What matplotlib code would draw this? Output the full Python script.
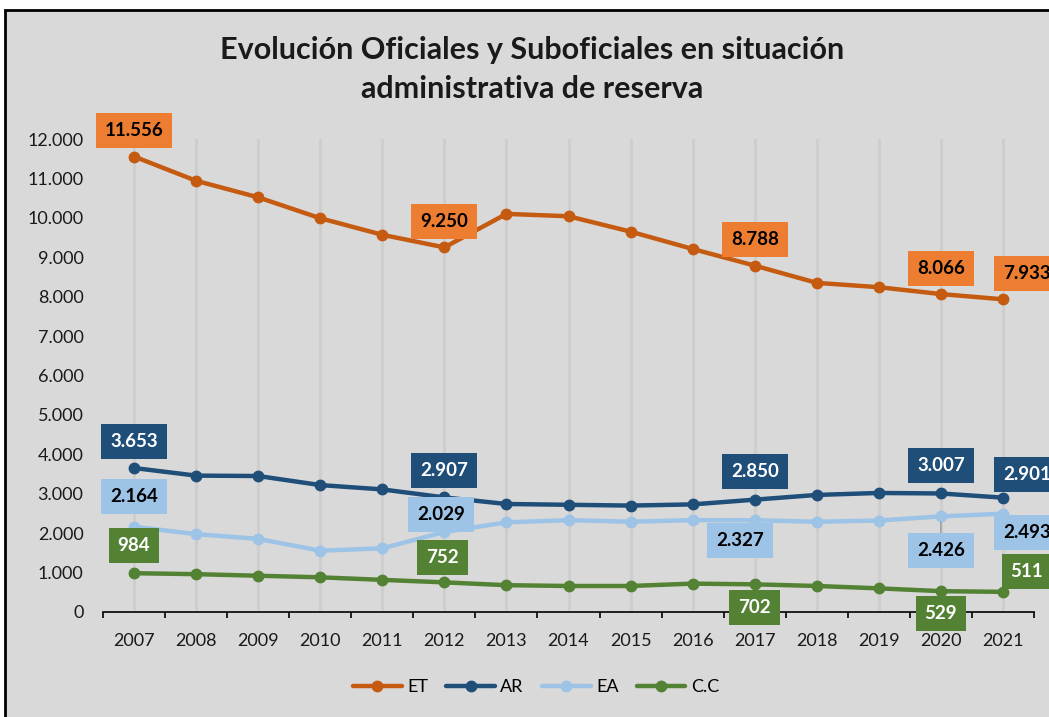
import matplotlib.pyplot as plt
from matplotlib.patches import Rectangle
from matplotlib.ticker import FuncFormatter

plt.rcParams['font.family'] = ['Lato', 'DejaVu Sans']

# Data
years = ['2007', '2008', '2009', '2010', '2011', '2012', '2013', '2014',
         '2015', '2016', '2017', '2018', '2019', '2020', '2021']
et = [11556, 10940, 10520, 9990, 9570, 9250, 10100, 10040,
      9650, 9210, 8788, 8350, 8240, 8066, 7933]
ar = [3653, 3460, 3450, 3220, 3110, 2907, 2740, 2720,
      2700, 2730, 2850, 2970, 3020, 3007, 2901]
ea = [2164, 1975, 1855, 1555, 1615, 2029, 2275, 2330,
      2290, 2330, 2327, 2290, 2320, 2426, 2493]
cc = [984, 960, 920, 880, 815, 752, 680, 660,
      660, 720, 702, 660, 600, 529, 511]

# labelled years (index) -> offset of label box in pixels (dx, dy)
et_labels = {0: (0, 26), 5: (0, 26), 10: (0, 26), 13: (0, 26), 14: (24, 26)}
ar_labels = {0: (0, 27), 5: (0, 27), 10: (0, 28), 13: (0, 28), 14: (24, 23)}
ea_labels = {0: (0, 30), 5: (-3, 18), 10: (-15, -20), 13: (0, -34), 14: (24, -19)}
cc_labels = {0: (0, 28), 5: (-2, 25), 10: (0, -23), 13: (0, -22), 14: (24, 20)}

series = [
    ('ET', et, '#C55A11', '#ED7D31', 'black', et_labels),
    ('AR', ar, '#1F4E79', '#1F4E79', 'white', ar_labels),
    ('EA', ea, '#9DC3E6', '#9DC3E6', 'black', ea_labels),
    ('C.C', cc, '#548235', '#548235', 'white', cc_labels),
]

fig = plt.figure(figsize=(10.49, 7.17), dpi=100)
fig.patch.set_facecolor('white')

# chart frame
frame = Rectangle((5 / 1049, -0.05), 1.1, 1 - 10 / 717 + 0.05, transform=fig.transFigure,
                  facecolor='#D9D9D9', edgecolor='black', linewidth=2, zorder=-10)
fig.patches.append(frame)

ax = fig.add_axes([103 / 1049, 1 - 612 / 717, 931 / 1049, (612 - 139) / 717])
ax.set_facecolor('none')

x = list(range(len(years)))
px = 72 / 100  # pixels -> points

for name, vals, lc, boxc, tc, labels in series:
    ax.plot(x, vals, color=lc, lw=3.2, marker='o', markersize=7.5, label=name,
            solid_capstyle='round', zorder=3)
    for i, (dx, dy) in labels.items():
        arrow = None
        if name == 'EA' and i == 13:
            arrow = dict(arrowstyle='-', color='#8C8C8C', lw=0.8, shrinkA=0, shrinkB=4)
        ax.annotate(f'{vals[i]:,}'.replace(',', '.'), (x[i], vals[i]),
                    xytext=(dx * px, dy * px), textcoords='offset points',
                    ha='center', va='center', fontsize=13.5, fontweight='bold', color=tc,
                    bbox=dict(boxstyle='square,pad=0.48', facecolor=boxc, edgecolor='none'),
                    arrowprops=arrow, annotation_clip=False, zorder=5)

ax.set_xlim(-0.5, len(years) - 0.5)
ax.set_ylim(0, 12000)
ax.set_yticks(range(0, 12001, 1000))
ax.yaxis.set_major_formatter(FuncFormatter(lambda v, p: f'{int(v):,}'.replace(',', '.')))
ax.set_xticks(x)
ax.set_xticklabels(years)
ax.set_xticks([i - 0.5 for i in range(len(years) + 1)], minor=True)

ax.tick_params(axis='y', length=0, pad=14, labelsize=13, labelcolor='#1A1A1A')
ax.tick_params(axis='x', which='major', length=0, pad=15, labelsize=13, labelcolor='#1A1A1A')
ax.tick_params(axis='x', which='minor', length=4.5, width=1.2, color='black', direction='out')

for s in ['top', 'right', 'left']:
    ax.spines[s].set_visible(False)
ax.spines['bottom'].set_color('black')
ax.spines['bottom'].set_linewidth(1.2)

ax.grid(axis='x', color='#CECECE', lw=2.2, zorder=0)
ax.set_axisbelow(True)

fig.text(532 / 1049, 1 - 50 / 717, 'Evolución Oficiales y Suboficiales en situación',
         ha='center', va='center', fontsize=22, fontweight='bold', color='#1A1A1A')
fig.text(532 / 1049, 1 - 89 / 717, 'administrativa de reserva',
         ha='center', va='center', fontsize=22, fontweight='bold', color='#1A1A1A')

ax.legend(loc='center', bbox_to_anchor=(536 / 1049, 1 - 687 / 717), bbox_transform=fig.transFigure,
          ncol=4, frameon=False, fontsize=13, handlelength=2.7, handletextpad=0.3,
          columnspacing=1.0, numpoints=1)

fig.savefig('out.png', dpi=100, facecolor=fig.get_facecolor())
